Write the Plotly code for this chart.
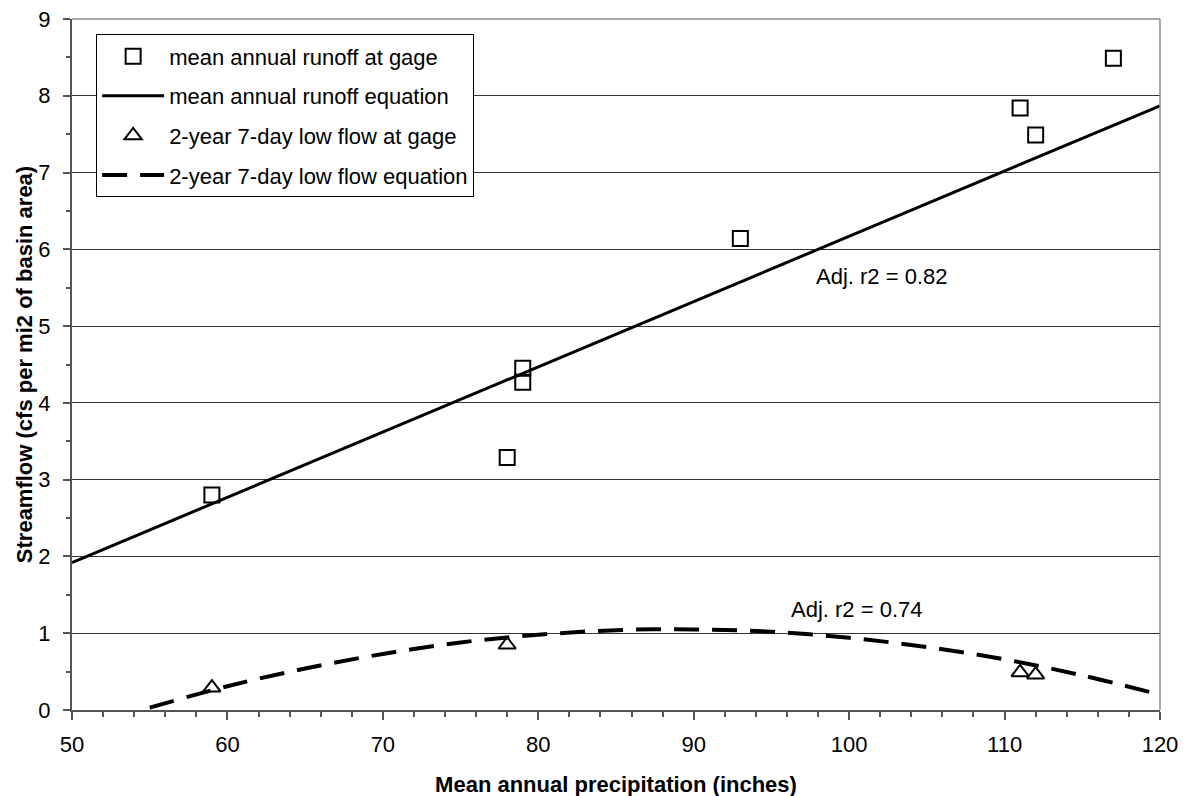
import plotly.graph_objects as go

# Data
runoff_x = [59, 78, 79, 79, 93, 111, 112, 117]
runoff_y = [2.80, 3.29, 4.27, 4.45, 6.14, 7.84, 7.49, 8.49]

lowflow_x = [59, 78, 111, 112]
lowflow_y = [0.29, 0.85, 0.49, 0.46]

runoff_eq_x = [50, 120]
runoff_eq_y = [1.92, 7.87]

lowflow_eq_x = [55, 60, 65, 70, 75, 80, 85, 90, 95, 100, 105, 110, 115, 120]
lowflow_eq_y = [0.03, 0.31, 0.54, 0.73, 0.88, 0.98, 1.04, 1.05, 1.02, 0.94, 0.82, 0.66, 0.45, 0.20]

x_range = [50, 120]
y_range = [0, 9]

FONT = "Liberation Sans, Arial, sans-serif"
FS = 22

fig = go.Figure()
fig.add_trace(go.Scatter(
    x=runoff_x, y=runoff_y, mode="markers", name="mean annual runoff at gage",
    legendgroup="a",
    marker=dict(symbol="square-open", size=15, color="black", line=dict(width=2, color="black")),
))
fig.add_trace(go.Scatter(
    x=runoff_eq_x, y=runoff_eq_y, mode="lines", name="mean annual runoff equation",
    legendgroup="b",
    line=dict(color="black", width=3),
))
fig.add_trace(go.Scatter(
    x=lowflow_x, y=lowflow_y, mode="markers", name="2-year 7-day low flow at gage",
    legendgroup="c",
    marker=dict(symbol="triangle-up-open", size=15, color="black", line=dict(width=2, color="black")),
))
fig.add_trace(go.Scatter(
    x=lowflow_eq_x, y=lowflow_eq_y, mode="lines", name="2-year 7-day low flow equation",
    legendgroup="d",
    line=dict(color="black", width=4, dash="25px,13px", shape="spline"),
))

fig.add_annotation(x=102.1, y=5.64, text="Adj. r2 = 0.82", showarrow=False,
                   font=dict(family=FONT, size=FS, color="black"))
fig.add_annotation(x=100.5, y=1.315, text="Adj. r2 = 0.74", showarrow=False,
                   font=dict(family=FONT, size=FS, color="black"))

# top and right border (gray)
fig.add_shape(type="line", xref="paper", yref="paper", x0=0, x1=1, y0=1, y1=1,
              line=dict(color="#8c8c8c", width=1.5), layer="above")
fig.add_shape(type="line", xref="paper", yref="paper", x0=1, x1=1, y0=0, y1=1,
              line=dict(color="#8c8c8c", width=1.5), layer="above")

fig.update_layout(
    width=1187, height=796,
    margin=dict(l=64, r=35, t=11, b=94, autoexpand=False),
    paper_bgcolor="white", plot_bgcolor="white",
    font=dict(family=FONT, size=FS, color="black"),
    showlegend=True,
    legend=dict(
        x=0.022, y=0.978, xanchor="left", yanchor="top",
        bgcolor="white", bordercolor="black", borderwidth=1.2,
        font=dict(family=FONT, size=FS, color="black"),
        tracegroupgap=8, traceorder="grouped",
        itemwidth=62,
    ),
    xaxis=dict(
        range=x_range, dtick=10, tick0=50, automargin=False,
        ticklabeloverflow="allow",
        showgrid=False, zeroline=False,
        showline=True, linecolor="#555555", linewidth=2,
        ticks="outside", ticklen=8, tickwidth=1.5, tickcolor="#555555",
        ticklabelstandoff=6,
        minor=dict(dtick=2, ticks="outside", ticklen=5, tickwidth=1.5, tickcolor="#555555", showgrid=False),
        tickfont=dict(family=FONT, size=FS, color="black"),
        title=dict(text="<b>Mean annual precipitation (inches)</b>", standoff=20,
                   font=dict(family=FONT, size=22, color="black")),
    ),
    yaxis=dict(
        range=y_range, dtick=1, tick0=0, automargin=False,
        ticklabeloverflow="allow",
        showgrid=True, gridcolor="#333333", gridwidth=1,
        zeroline=False,
        showline=True, linecolor="#555555", linewidth=2,
        ticks="outside", ticklen=7, tickwidth=1.5, tickcolor="#555555",
        ticklabelstandoff=8,
        minor=dict(dtick=0.5, ticks="outside", ticklen=4, tickwidth=1.5, tickcolor="#555555", showgrid=False),
        tickfont=dict(family=FONT, size=FS, color="black"),
        title=dict(text="<b>Streamflow (cfs per mi2 of basin area)</b>", standoff=0,
                   font=dict(family=FONT, size=22, color="black")),
    ),
)

fig.write_html("out.html")
